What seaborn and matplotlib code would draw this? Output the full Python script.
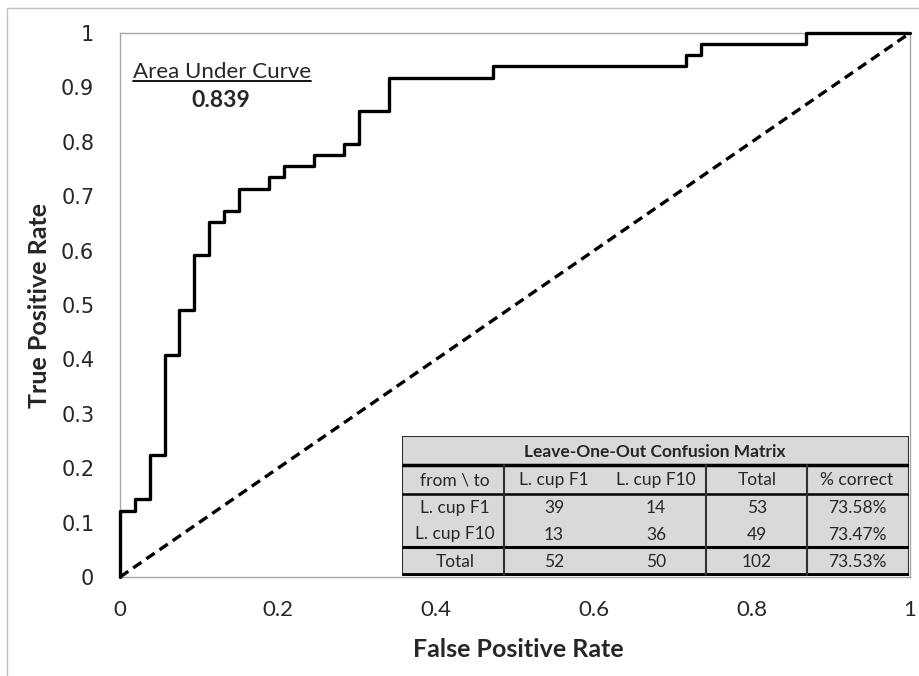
import matplotlib
matplotlib.use("Agg")
import matplotlib.pyplot as plt
from matplotlib.patches import Rectangle
from matplotlib.lines import Line2D
from matplotlib.transforms import IdentityTransform
import pandas as pd
import seaborn as sns

# ROC curve corners
fpr = [0, 0, 0.019, 0.038, 0.057, 0.075, 0.094, 0.113, 0.132, 0.151, 0.189,
       0.208, 0.245, 0.283, 0.302, 0.340, 0.472, 0.717, 0.736, 0.868, 1.0]
tpr = [0, 0.122, 0.143, 0.224, 0.408, 0.490, 0.592, 0.653, 0.673, 0.714, 0.735,
       0.755, 0.776, 0.796, 0.857, 0.918, 0.939, 0.959, 0.980, 1.0, 1.0]
chance = [0, 1]
auc = "0.839"

x_ticks = [0, 0.1, 0.2, 0.3, 0.4, 0.5, 0.6, 0.7, 0.8, 0.9, 1.0]
x_tick_labels = ["0", "", "0.2", "", "0.4", "", "0.6", "", "0.8", "", "1"]
y_ticks = [0, 0.1, 0.2, 0.3, 0.4, 0.5, 0.6, 0.7, 0.8, 0.9, 1.0]
y_tick_labels = ["0", "0.1", "0.2", "0.3", "0.4", "0.5", "0.6", "0.7", "0.8", "0.9", "1"]

# Confusion matrix table
table_title = "Leave-One-Out Confusion Matrix"
col_labels = ["from \\ to", "L. cup F1", "L. cup F10", "Total", "% correct"]
row_labels = ["L. cup F1", "L. cup F10", "Total"]
counts = [[39, 14, 53], [13, 36, 49], [52, 50, 102]]
pct_correct = ["73.58%", "73.47%", "73.53%"]

sns.set_style("white")
plt.rcParams["font.family"] = ["Lato", "DejaVu Sans"]
grey = "#a6a6a6"

fig = plt.figure(figsize=(9.2, 6.76), dpi=100)
ax = fig.add_axes([120 / 920, 99 / 676, 790 / 920, 544 / 676])

roc = pd.DataFrame({"fpr": fpr, "tpr": tpr})
sns.lineplot(data=roc, x="fpr", y="tpr", estimator=None, sort=False,
             drawstyle="steps-post", color="black", lw=2.4, clip_on=False,
             zorder=3, ax=ax)
sns.lineplot(x=chance, y=chance, estimator=None, color="black", lw=2.4,
             ls=(0, (3, 1.8)), clip_on=False, zorder=3, ax=ax)

ax.set_xlim(0, 1)
ax.set_ylim(0, 1)
ax.set_xticks(x_ticks)
ax.set_xticklabels(x_tick_labels, fontsize=16)
ax.set_yticks(y_ticks)
ax.set_yticklabels(y_tick_labels, fontsize=15, family="DejaVu Sans")
ax.tick_params(axis="x", direction="inout", length=11, width=1, color=grey, pad=11)
ax.tick_params(axis="y", direction="inout", length=13, width=1, color=grey, pad=12)
for s in ax.spines.values():
    s.set_color(grey)
    s.set_linewidth(1)

ax.set_xlabel("False Positive Rate", fontsize=18, fontweight="bold")
ax.set_ylabel("True Positive Rate", fontsize=18, fontweight="bold")
ax.xaxis.set_label_coords(0.504, -0.113)
ax.yaxis.set_label_coords(-0.087, 0.5)

# AUC annotation
t = ax.text(0.129, 0.928, "Area Under Curve", transform=ax.transAxes,
            ha="center", va="center", fontsize=16)
ax.text(0.127, 0.876, auc, transform=ax.transAxes, ha="center", va="center",
        fontsize=16.5, fontweight="bold")
fig.canvas.draw()
bb = t.get_window_extent()
fig.add_artist(Line2D([bb.x0, bb.x1], [bb.y0 + 1, bb.y0 + 1], color="black",
                      lw=1.3, transform=IdentityTransform()))

# table drawn in its own small axes (pixel-like coords)
tab = fig.add_axes([402 / 920, 100 / 676, 507 / 920, 140 / 676], zorder=5)
tab.set_xlim(0, 507)
tab.set_ylim(140, 0)
tab.axis("off")
tab.add_patch(Rectangle((0, 0), 507, 140, fc="#d9d9d9", ec="#303030", lw=1.5))
for y, w in [(29, 2.5), (58, 1.8), (111, 2.2), (139, 3.5)]:
    tab.plot([0, 507], [y, y], color="black", lw=w, solid_capstyle="butt")
for x in [102, 304, 405]:
    tab.plot([x, x], [29, 139], color="#303030", lw=1.5)

txt_x = [53, 152, 254, 355, 455]
kw = dict(ha="center", va="center", fontsize=12.5)
tab.text(253, 16, table_title, fontweight="bold", **kw)
for x, lab in zip(txt_x, col_labels):
    tab.text(x, 44, lab, **kw)
for i, y in enumerate([72, 98.5, 126]):
    tab.text(txt_x[0], y, row_labels[i], **kw)
    for j in range(3):
        tab.text(txt_x[j + 1], y, str(counts[i][j]), **kw)
    tab.text(txt_x[4], y, pct_correct[i], **kw)

# chart area border
fig.patches.append(Rectangle((7 / 920, -0.1), 1.2, 668 / 676 + 0.1,
                             transform=fig.transFigure, fill=False,
                             ec="#c0c0c0", lw=1))

fig.savefig("out.png", dpi=100)
